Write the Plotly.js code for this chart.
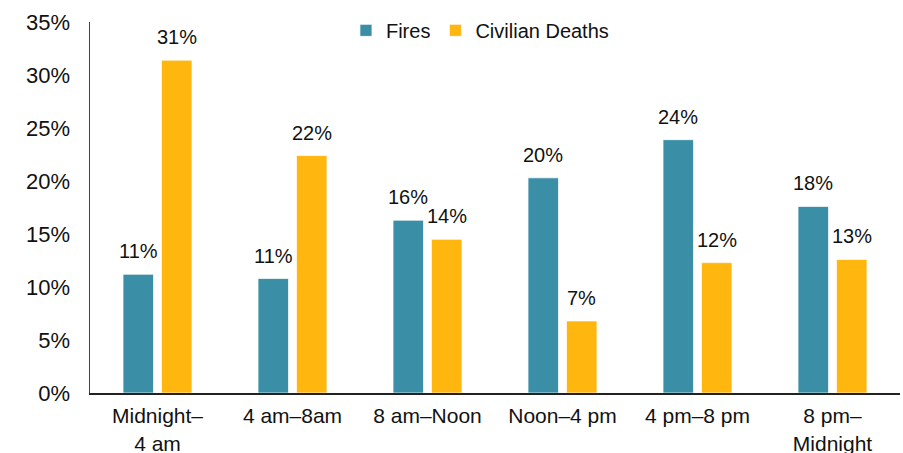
<!DOCTYPE html>
<html>
<head>
<meta charset="utf-8">
<script src="https://cdn.plot.ly/plotly-3.0.1.min.js"></script>
<style>html,body{margin:0;padding:0;background:#fff}#chart{width:903px;height:453px}</style>
</head>
<body>
<div id="chart"></div>
<script>
const categories = ["Midnight–<br>4 am", "4 am–8am", "8 am–Noon", "Noon–4 pm", "4 pm–8 pm", "8 pm–<br>Midnight"];
const fires = [11.2, 10.8, 16.3, 20.3, 23.9, 17.6];
const deaths = [31.4, 22.4, 14.5, 6.8, 12.3, 12.6];
const firesLabels = ["11%", "11%", "16%", "20%", "24%", "18%"];
const deathsLabels = ["31%", "22%", "14%", "7%", "12%", "13%"];

const FONT = "Liberation Sans, Arial, sans-serif";

const traces = [
  {type: "bar", name: "Fires", x: categories, y: fires,
   marker: {color: "#3A8FA6", line: {color: "rgba(255,255,255,0.7)", width: 1}}, hoverinfo: "none"},
  {type: "bar", name: "Civilian Deaths", x: categories, y: deaths,
   marker: {color: "#FFB60F", line: {color: "rgba(255,255,255,0.7)", width: 1}}, hoverinfo: "none"}
];

const shift = 19.25;
const annotations = [];
categories.forEach((c, i) => {
  annotations.push({x: c, y: fires[i], text: firesLabels[i], xref: "x", yref: "y", showarrow: false,
    xshift: -shift, yanchor: "bottom", yshift: 10, font: {family: FONT, size: 20, color: "#111"}});
  annotations.push({x: c, y: deaths[i], text: deathsLabels[i], xref: "x", yref: "y", showarrow: false,
    xshift: shift, yanchor: "bottom", yshift: 10, font: {family: FONT, size: 20, color: "#111"}});
});

const layout = {
  width: 903, height: 453,
  margin: {l: 90, r: 3, t: 22, b: 60},
  paper_bgcolor: "#fff", plot_bgcolor: "#fff",
  barmode: "group", bargap: 0.43, bargroupgap: 0.208,
  font: {family: FONT, size: 20, color: "#111"},
  showlegend: true,
  legend: {orientation: "h", x: 0.316, xanchor: "left", y: 1.03, yanchor: "top",
    font: {family: FONT, size: 20, color: "#111"}, itemwidth: 30, bgcolor: "rgba(0,0,0,0)"},
  xaxis: {type: "category", showline: true, linecolor: "#222", linewidth: 2, ticks: "",
    ticklabelstandoff: 3,
    tickfont: {family: FONT, size: 21, color: "#111"}, showgrid: false, zeroline: false},
  yaxis: {range: [0, 35], dtick: 5, ticksuffix: "%", showline: true, linecolor: "#444", linewidth: 1.5,
    ticks: "", showgrid: false, zeroline: false, ticklabelstandoff: 14,
    tickfont: {family: FONT, size: 22, color: "#111"}},
  annotations: annotations
};

Plotly.newPlot("chart", traces, layout, {displayModeBar: false, staticPlot: true});
</script>
</body>
</html>
